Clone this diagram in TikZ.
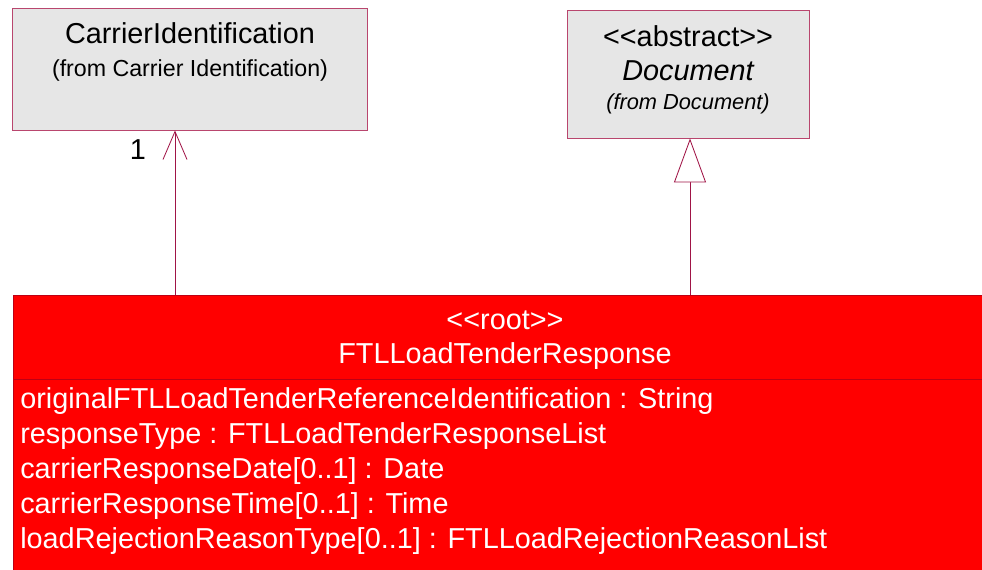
\documentclass[tikz,border=0pt]{standalone}
\usepackage{fontspec}
\setmainfont{Liberation Sans}
\usepackage{xcolor}
\definecolor{bordeuml}{RGB}{185, 70, 110}
\definecolor{lineauml}{RGB}{160, 20, 70}
\definecolor{grisuml}{RGB}{230, 230, 230}
\definecolor{rojouml}{RGB}{255, 0, 0}
\definecolor{rojoosc}{RGB}{190, 0, 20}
\usepackage{tikz}
\usetikzlibrary{arrows.meta, positioning}

\begin{document}
\begin{tikzpicture}[x=0.025cm, y=-0.025cm,
        clase/.style={draw=bordeuml, fill=grisuml, line width=0.6pt, inner sep=0pt},
        conector/.style={draw=lineauml, line width=0.6pt},
        grande/.style={font=\fontsize{20.5}{24}\selectfont, inner sep=0pt},
        atributo/.style={font=\fontsize{20.5}{24}\selectfont, text=white, anchor=west, inner sep=0pt}]
        \clip (0,0) rectangle (982,570);
        % clases de arriba
        \node[clase, minimum width=8.875cm, minimum height=3.05cm] (carrier) at (189.5,69) {};
        \node[grande] (carriernom) at (190,33) {CarrierIdentification};
        \node[font=\fontsize{16.5}{20}\selectfont, inner sep=0pt] (carrierfrom) at (190,70) {(from Carrier Identification)};
        \node[clase, minimum width=6.05cm, minimum height=3.2cm] (document) at (688,74) {};
        \node[grande] (docstereo) at (688,36) {<{}<abstract>{}>};
        \node[grande, font=\fontsize{20.5}{24}\selectfont\itshape] (docnom) at (688,71) {Document};
        \node[font=\fontsize{15.5}{19}\selectfont\itshape, inner sep=0pt] (docfrom) at (688,104) {(from Document)};
        % clase raiz
        \node[draw=rojoosc, fill=rojouml, line width=0.6pt, minimum width=24.4cm, minimum height=7.125cm, inner sep=0pt] (resp) at (502,437.5) {};
        \node[grande, text=white] (respstereo) at (505,320) {<{}<root>{}>};
        \node[grande, text=white] (respnom) at (505,356) {FTLLoadTenderResponse};
        \draw[draw=rojoosc, line width=0.6pt] (resp.west |- 0,379) -- (resp.east |- 0,379);
        \node[atributo] (attr1) at (20,401) {originalFTLLoadTenderReferenceIdentification : String};
        \node[atributo] (attr2) at (20,436) {responseType : FTLLoadTenderResponseList};
        \node[atributo] (attr3) at (20,471) {carrierResponseDate[0..1] : Date};
        \node[atributo] (attr4) at (20,506) {carrierResponseTime[0..1] : Time};
        \node[atributo] (attr5) at (20,541) {loadRejectionReasonType[0..1] : FTLLoadRejectionReasonList};
        % relaciones
        \coordinate (asocx) at (175,0);
        \coordinate (herx) at (690,0);
        \draw[conector, -{Straight Barb[length=0.7cm, width=0.6cm, line width=0.6pt]}] (resp.north -| asocx) -- (carrier.south -| asocx);
        \node[grande] (mult) at (138,150) {1};
        \draw[conector, -{Triangle[open, length=1.1cm, width=0.8cm, fill=white, line width=0.6pt]}] (resp.north -| herx) -- (document.south -| herx);
    \end{tikzpicture}
\end{document}
